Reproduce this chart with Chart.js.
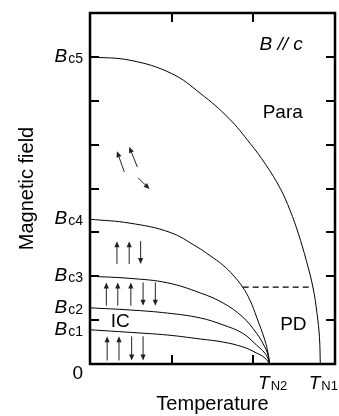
<!DOCTYPE html>
<html>
<head>
<meta charset="utf-8">
<script src="https://cdn.jsdelivr.net/npm/chart.js@4"></script>
<style>
  html, body { margin: 0; padding: 0; background: #fff; }
</style>
</head>
<body>
<canvas id="phaseChart" width="339" height="416"></canvas>
<script>
// axis ranges and tick positions (arbitrary units)
const tempMax = 3;
const fieldMax = 8;
const xTickValues = [1, 2];
const yTickValues = [1, 2, 3, 4, 5, 6, 7];

// labelled critical fields / temperatures
const fieldLabelSubs = ['c1', 'c2', 'c3', 'c4', 'c5'];
const fieldLabelValues = [0.78, 1.28, 2.0, 3.3, 7.0];
const tempLabelSubs = ['N2', 'N1'];
const tempLabelValues = [2.2, 2.82];

// phase boundaries
const tn1Temp  = [0, 0.5, 1.0, 1.35, 1.7, 1.96, 2.15, 2.33, 2.45, 2.55, 2.65, 2.73, 2.78, 2.81, 2.82];
const tn1Field = [7, 6.92, 6.62, 6.17, 5.6, 5.03, 4.55, 4.0, 3.5, 2.98, 2.35, 1.75, 1.15, 0.6, 0];

const bc4Temp  = [0, 0.49, 0.98, 1.31, 1.47, 1.63, 1.75, 1.87, 1.96, 2.04, 2.14, 2.18, 2.2];
const bc4Field = [3.3, 3.21, 3.0, 2.67, 2.47, 2.25, 2.03, 1.75, 1.45, 1.07, 0.55, 0.25, 0];

const bc3Temp  = [0, 0.5, 0.95, 1.35, 1.63, 1.87, 2.04, 2.14, 2.18, 2.2];
const bc3Field = [2.0, 1.95, 1.85, 1.62, 1.39, 1.07, 0.7, 0.39, 0.2, 0];

const bc2Temp  = [0, 0.5, 0.95, 1.35, 1.63, 1.87, 2.04, 2.14, 2.18, 2.2];
const bc2Field = [1.28, 1.23, 1.16, 1.05, 0.89, 0.7, 0.43, 0.25, 0.12, 0];

const bc1Temp  = [0, 0.5, 0.95, 1.35, 1.63, 1.87, 2.04, 2.14, 2.2];
const bc1Field = [0.78, 0.72, 0.66, 0.57, 0.5, 0.39, 0.25, 0.14, 0];

const pdTemp  = [1.87, 2.73];
const pdField = [1.75, 1.75];

// region labels: text, temperature, field
const regionLabels = [
  ['Para', 2.36, 5.72],
  ['PD', 2.49, 0.89],
  ['IC', 0.37, 0.96]
];
const fieldDirText = 'B // c';
const fieldDirPos = [2.34, 7.27];

// spin arrows: [tailT, tailB, headT, headB]
const spinArrows = [
  // up up down down
  [0.21, 0.08, 0.21, 0.63], [0.355, 0.08, 0.355, 0.63],
  [0.51, 0.63, 0.51, 0.08], [0.65, 0.63, 0.65, 0.08],
  // up up up down down
  [0.2, 1.33, 0.2, 1.86], [0.34, 1.33, 0.34, 1.86], [0.5, 1.33, 0.5, 1.86],
  [0.65, 1.86, 0.65, 1.33], [0.8, 1.86, 0.8, 1.33],
  // up up down
  [0.33, 2.28, 0.33, 2.8], [0.48, 2.28, 0.48, 2.8], [0.62, 2.8, 0.62, 2.28],
  // canted
  [0.42, 4.38, 0.33, 4.85], [0.58, 4.49, 0.48, 4.95], [0.59, 4.24, 0.73, 3.99]
];

const FONT = '"Liberation Sans", Arial, sans-serif';

function pts(xs, ys) {
  return xs.map((x, i) => ({ x: x, y: ys[i] }));
}

function curve(xs, ys, extra) {
  return Object.assign({
    data: pts(xs, ys),
    borderColor: '#000',
    borderWidth: 1,
    pointRadius: 0,
    fill: false,
    tension: 0.4
  }, extra || {});
}

const phaseDecor = {
  id: 'phaseDecor',
  afterDraw(chart) {
    const { ctx, chartArea: a, scales: { x, y } } = chart;
    ctx.save();

    // spin arrows
    ctx.strokeStyle = '#222';
    ctx.fillStyle = '#222';
    ctx.lineWidth = 1;
    spinArrows.forEach(ar => {
      const x1 = x.getPixelForValue(ar[0]), y1 = y.getPixelForValue(ar[1]);
      const x2 = x.getPixelForValue(ar[2]), y2 = y.getPixelForValue(ar[3]);
      const ang = Math.atan2(y2 - y1, x2 - x1);
      const hl = 6, hw = 2.6;
      ctx.beginPath();
      ctx.moveTo(x1, y1);
      ctx.lineTo(x2 - Math.cos(ang) * hl * 0.8, y2 - Math.sin(ang) * hl * 0.8);
      ctx.stroke();
      ctx.beginPath();
      ctx.moveTo(x2, y2);
      ctx.lineTo(x2 - Math.cos(ang) * hl - Math.sin(ang) * hw, y2 - Math.sin(ang) * hl + Math.cos(ang) * hw);
      ctx.lineTo(x2 - Math.cos(ang) * hl + Math.sin(ang) * hw, y2 - Math.sin(ang) * hl - Math.cos(ang) * hw);
      ctx.closePath();
      ctx.fill();
    });

    // frame
    ctx.strokeStyle = '#000';
    ctx.lineWidth = 2.5;
    ctx.strokeRect(a.left, a.top, a.right - a.left, a.bottom - a.top);

    // inward ticks on all four sides
    ctx.lineWidth = 2;
    ctx.beginPath();
    yTickValues.forEach(v => {
      const py = Math.round(y.getPixelForValue(v));
      ctx.moveTo(a.left, py); ctx.lineTo(a.left + 9, py);
      ctx.moveTo(a.right, py); ctx.lineTo(a.right - 9, py);
    });
    xTickValues.forEach(v => {
      const px = Math.round(x.getPixelForValue(v));
      ctx.moveTo(px, a.top); ctx.lineTo(px, a.top + 9);
      ctx.moveTo(px, a.bottom); ctx.lineTo(px, a.bottom - 9);
    });
    ctx.stroke();

    ctx.fillStyle = '#000';
    ctx.textBaseline = 'alphabetic';

    // field labels B_cN
    fieldLabelValues.forEach((v, i) => {
      const py = y.getPixelForValue(v);
      ctx.font = '14px ' + FONT;
      const subW = ctx.measureText(fieldLabelSubs[i]).width;
      const subX = a.left - 7 - subW;
      ctx.textAlign = 'left';
      ctx.fillText(fieldLabelSubs[i], subX, py + 6);
      ctx.font = 'italic 19px ' + FONT;
      ctx.textAlign = 'right';
      ctx.fillText('B', subX - 1, py + 5);
    });
    ctx.font = '19px ' + FONT;
    ctx.textAlign = 'right';
    ctx.fillText('0', a.left - 7, a.bottom + 15);

    // temperature labels T_N
    tempLabelValues.forEach((v, i) => {
      const px = x.getPixelForValue(v);
      ctx.font = 'italic 19px ' + FONT;
      ctx.textAlign = 'right';
      ctx.fillText('T', px, a.bottom + 25);
      ctx.font = '13px ' + FONT;
      ctx.textAlign = 'left';
      ctx.fillText(tempLabelSubs[i], px + 1, a.bottom + 26);
    });

    // region labels
    ctx.font = '19px ' + FONT;
    ctx.textAlign = 'center';
    ctx.textBaseline = 'middle';
    regionLabels.forEach(r => {
      ctx.fillText(r[0], x.getPixelForValue(r[1]), y.getPixelForValue(r[2]));
    });
    ctx.font = 'italic 19px ' + FONT;
    ctx.fillText(fieldDirText, x.getPixelForValue(fieldDirPos[0]), y.getPixelForValue(fieldDirPos[1]));

    // axis titles
    ctx.font = '20px ' + FONT;
    ctx.textBaseline = 'alphabetic';
    ctx.fillText('Temperature', (a.left + a.right) / 2, a.bottom + 46);
    ctx.translate(33, (a.top + a.bottom) / 2);
    ctx.rotate(-Math.PI / 2);
    ctx.fillText('Magnetic field', 0, 0);

    ctx.restore();
  }
};

new Chart(document.getElementById('phaseChart').getContext('2d'), {
  type: 'line',
  data: {
    datasets: [
      curve(tn1Temp, tn1Field),
      curve(bc4Temp, bc4Field),
      curve(bc3Temp, bc3Field),
      curve(bc2Temp, bc2Field),
      curve(bc1Temp, bc1Field),
      curve(pdTemp, pdField, { borderDash: [6, 4], borderWidth: 1.3, tension: 0 })
    ]
  },
  options: {
    responsive: false,
    animation: false,
    events: [],
    layout: { padding: { left: 90, right: 4, top: 13, bottom: 52 } },
    plugins: { legend: { display: false }, tooltip: { enabled: false } },
    scales: {
      x: { type: 'linear', min: 0, max: tempMax, display: false },
      y: { type: 'linear', min: 0, max: fieldMax, display: false }
    }
  },
  plugins: [phaseDecor]
});
</script>
</body>
</html>
